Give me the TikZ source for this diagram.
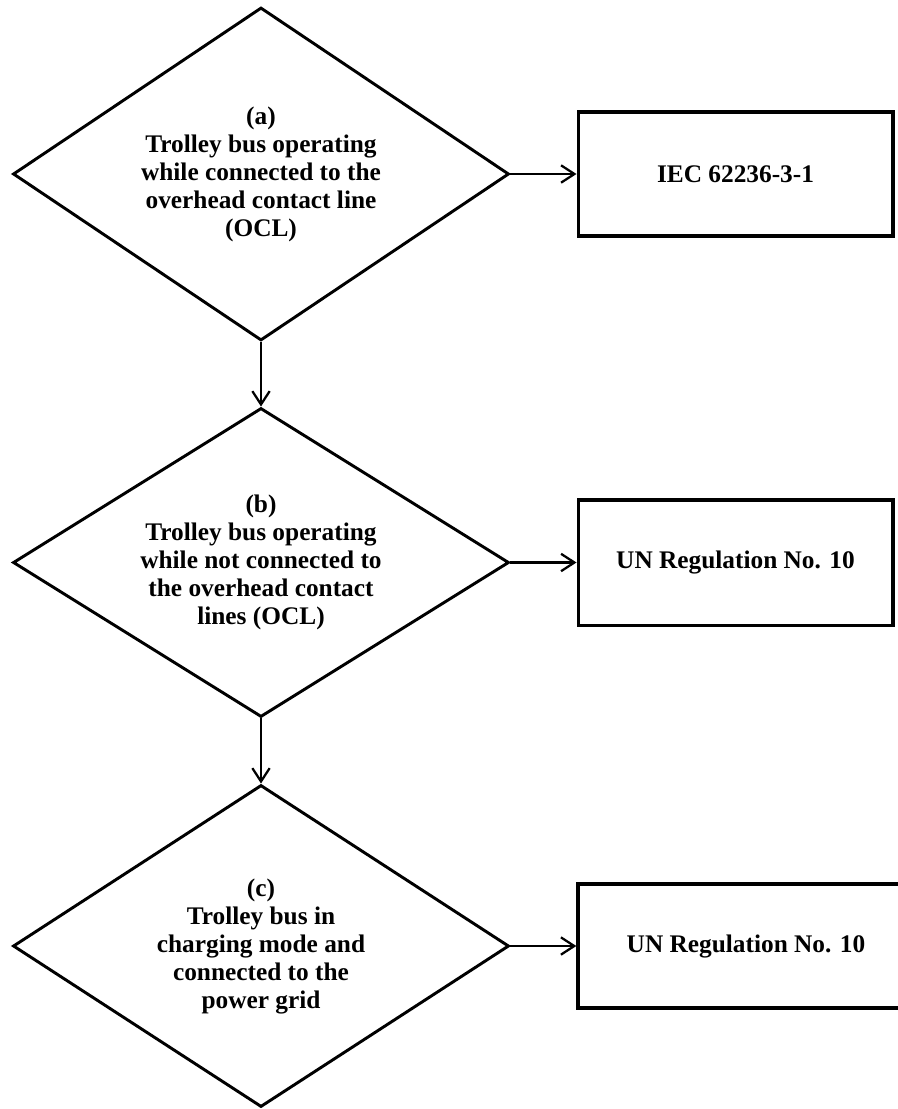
\documentclass[tikz,border=0pt]{standalone}
\usepackage{fontspec}
\setmainfont{Liberation Serif}
\usetikzlibrary{shapes.geometric,arrows.meta}

\begin{document}
\begin{tikzpicture}[x=0.75pt,y=-0.75pt,
    label/.style={font=\bfseries\fontsize{19}{21}\selectfont,align=center},
    case/.style={diamond,draw,line width=2.2pt,inner sep=0pt,label,minimum width=372pt},
    rulebox/.style={rectangle,draw,line width=2.5pt,inner sep=0pt,label,minimum width=236pt,minimum height=93pt},
    flow/.style={line width=1.7pt,-{Straight Barb[length=10pt,width=13pt,line width=1.7pt]}}]
            \useasboundingbox (0,0) rectangle (897,1109);

            % operating modes
            \node [case, aspect=1.49, minimum height=249.75pt] (a) at (261,174) {(a)\\Trolley bus operating\\while connected to the\\overhead contact line\\(OCL)};
            \node [case, aspect=1.605, minimum height=231.75pt] (b) at (261,562.5) {(b)\\Trolley bus operating\\while not connected to\\the overhead contact\\lines (OCL)};
            \node [case, aspect=1.54, minimum height=241.5pt] (c) at (261,946) {(c)\\Trolley bus in\\charging mode and\\connected to the\\power grid};

            % applicable standards
            \node [rulebox] (iec) at (735.5,174) {IEC 62236-3-1};
            \node [rulebox, minimum height=94pt] (unb) at (735.5,562.5) {UN Regulation No. 10};
            \node [rulebox, minimum width=252pt] (unc) at (746,946) {UN Regulation No. 10};

            \draw [flow] (a.south) to (b.north);
            \draw [flow] (b.south) to (c.north);
            \draw [flow] (a.east) to (iec.west);
            \draw [flow] (b.east) to (unb.west);
            \draw [flow] (c.east) to (unc.west);

\end{tikzpicture}
\end{document}
